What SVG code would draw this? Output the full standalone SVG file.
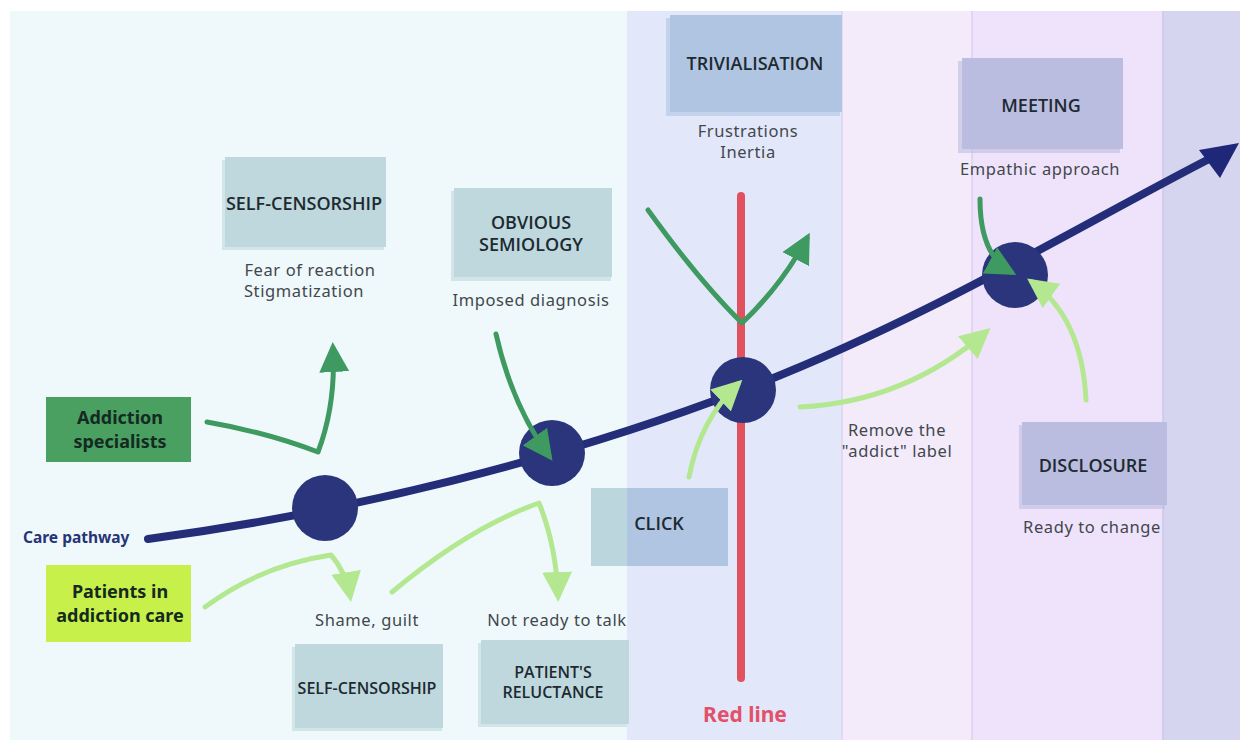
<svg xmlns="http://www.w3.org/2000/svg" width="1240" height="740" viewBox="0 0 1240 740">
<style>
.title{font-family:"Open Sans","Noto Sans",sans-serif;font-weight:600;font-size:18px;fill:#1d2a30;text-anchor:middle}
.desc{font-family:"Noto Sans","Open Sans",sans-serif;font-size:16.5px;letter-spacing:0.6px;fill:#42474c;text-anchor:middle}
.actor{font-family:"Noto Sans","Open Sans",sans-serif;font-weight:700;font-size:18px;fill:#142a22;text-anchor:middle}
.dg{fill:none;stroke:#3e9a60;stroke-width:5;stroke-linecap:round;stroke-linejoin:round}
.lg{fill:none;stroke:#b4e890;stroke-width:5;stroke-linecap:round;stroke-linejoin:round}
.node{fill:#2a357c}
</style>
<defs>
<marker id="ahD" viewBox="0 0 10 10" refX="8" refY="5" markerWidth="6" markerHeight="6" orient="auto" markerUnits="strokeWidth"><path d="M0,0 L10,5 L0,10 z" fill="#3e9a60"/></marker>
<marker id="ahL" viewBox="0 0 10 10" refX="8" refY="5" markerWidth="6" markerHeight="6" orient="auto" markerUnits="strokeWidth"><path d="M0,0 L10,5 L0,10 z" fill="#b4e890"/></marker>
</defs>
<rect x="0" y="0" width="1240" height="740" fill="#ffffff"/>
<g id="panels">
<rect x="10" y="11" width="617" height="729" fill="#eff9fb"/>
<rect x="627" y="11" width="215" height="729" fill="#e2e8fa"/>
<rect x="842" y="11" width="130" height="729" fill="#f3ebfa"/>
<rect x="972" y="11" width="191" height="729" fill="#efe3fb"/>
<rect x="1163" y="11" width="77" height="729" fill="#d5d5f0"/>
<line x1="842" y1="11" x2="842" y2="740" stroke="#ddd3f3" stroke-width="1.5"/>
<line x1="972" y1="11" x2="972" y2="740" stroke="#ddcff0" stroke-width="1.5"/>
<line x1="1163" y1="11" x2="1163" y2="740" stroke="#c9c7ea" stroke-width="1.5"/>
</g>
<g id="redline">
<line x1="741" y1="196" x2="741" y2="678" stroke="#e2515f" stroke-width="8" stroke-linecap="round"/>
<text x="745" y="722" font-family="Noto Sans, Open Sans, sans-serif" font-weight="700" font-size="21" fill="#e3506a" text-anchor="middle">Red line</text>
</g>
<g id="self-censorship-top">
<rect x="222" y="160" width="162" height="90" fill="#bed8de" opacity="0.6"/>
<rect x="225" y="157" width="161" height="90" fill="#bed8de"/>
<text class="title" x="304" y="210">SELF-CENSORSHIP</text>
<text class="desc" x="310" y="276">Fear of reaction</text>
<text class="desc" x="304" y="297">Stigmatization</text>
</g>
<g id="obvious-semiology">
<rect x="451" y="191" width="160" height="90" fill="#bed8de" opacity="0.6"/>
<rect x="454" y="188" width="158" height="89" fill="#bed8de"/>
<text class="title" x="531" y="229">OBVIOUS</text>
<text class="title" x="531" y="251">SEMIOLOGY</text>
<text class="desc" x="531" y="306">Imposed diagnosis</text>
</g>
<g id="trivialisation">
<rect x="666" y="18" width="174" height="98" fill="#b0c5e2" opacity="0.6"/>
<rect x="670" y="15" width="172" height="97" fill="#b0c5e2"/>
<text class="title" x="755" y="70">TRIVIALISATION</text>
<text class="desc" x="748" y="137">Frustrations</text>
<text class="desc" x="748" y="158">Inertia</text>
</g>
<g id="meeting">
<rect x="958" y="61" width="162" height="92" fill="#bbbde0" opacity="0.6"/>
<rect x="962" y="58" width="161" height="91" fill="#bbbde0"/>
<text class="title" x="1041" y="112">MEETING</text>
<text class="desc" x="1040" y="175">Empathic approach</text>
</g>
<g id="addiction-specialists">
<rect x="46" y="397" width="145" height="65" fill="#4aa060"/>
<text class="actor" x="120" y="424">Addiction</text>
<text class="actor" x="120" y="448">specialists</text>
</g>
<g id="patients">
<rect x="46" y="565" width="145" height="77" fill="#c8f04a"/>
<text class="actor" x="120" y="598">Patients in</text>
<text class="actor" x="120" y="622">addiction care</text>
</g>
<g id="care-pathway-label">
<text x="23" y="543" font-family="Noto Sans, Open Sans, sans-serif" font-weight="700" font-size="15.5" fill="#263478">Care pathway</text>
</g>
<g id="self-censorship-bottom">
<rect x="292" y="647" width="150" height="84" fill="#bed8de" opacity="0.6"/>
<rect x="295" y="644" width="148" height="84" fill="#bed8de"/>
<text class="title" x="367" y="694" style="font-size:16px">SELF-CENSORSHIP</text>
<text class="desc" x="367" y="626">Shame, guilt</text>
</g>
<g id="patients-reluctance">
<rect x="478" y="643" width="149" height="84" fill="#bed8de" opacity="0.6"/>
<rect x="481" y="640" width="148" height="84" fill="#bed8de"/>
<text class="title" x="553" y="678" style="font-size:16px">PATIENT'S</text>
<text class="title" x="553" y="698" style="font-size:16px">RELUCTANCE</text>
<text class="desc" x="557" y="626">Not ready to talk</text>
</g>
<g id="click">
<rect x="591" y="488" width="36" height="78" fill="#bcd6de"/>
<rect x="627" y="488" width="101" height="78" fill="#b0c5e2"/>
<text class="title" x="659" y="530">CLICK</text>
</g>
<g id="disclosure">
<rect x="1019" y="425" width="146" height="84" fill="#bbbde0" opacity="0.6"/>
<rect x="1022" y="422" width="145" height="83" fill="#bbbde0"/>
<text class="title" x="1093" y="472">DISCLOSURE</text>
<text class="desc" x="1092" y="533">Ready to change</text>
</g>
<g id="remove-label">
<text class="desc" x="897" y="436">Remove the</text>
<text class="desc" x="897" y="457">"addict" label</text>
</g>
<g id="pathway">
<path d="M148,539 C350,512 560,460 743,390 S1080,225 1213,157" fill="none" stroke="#232d78" stroke-width="8" stroke-linecap="round"/>
<path d="M1239,143 L1199,150 L1220,178 z" fill="#1f2878"/>
</g>
<g id="node1"><circle class="node" cx="325" cy="508" r="33"/></g>
<g id="node2"><circle class="node" cx="552" cy="453" r="33"/></g>
<g id="node3"><circle class="node" cx="743" cy="390" r="33"/></g>
<g id="node4"><circle class="node" cx="1015" cy="275" r="33"/></g>
<g id="connectors">
<path class="dg" d="M207,422 Q265,432 318,452 Q336,405 333,348" marker-end="url(#ahD)"/>
<path class="dg" d="M496,334 Q512,405 549,456" marker-end="url(#ahD)"/>
<path class="dg" d="M648,210 Q700,282 742,323 Q782,285 807,238" marker-end="url(#ahD)"/>
<path class="dg" d="M980,199 Q980,255 1011,272" marker-end="url(#ahD)"/>
<path class="lg" d="M205,607 Q262,565 331,555 Q346,572 350,596" marker-end="url(#ahL)"/>
<path class="lg" d="M392,592 Q470,527 539,503 Q556,545 558,596" marker-end="url(#ahL)"/>
<path class="lg" d="M689,477 Q700,420 738,384" marker-end="url(#ahL)"/>
<path class="lg" d="M800,407 Q905,402 986,332" marker-end="url(#ahL)"/>
<path class="lg" d="M1086,400 Q1082,318 1032,282" marker-end="url(#ahL)"/>
</g>
</svg>
